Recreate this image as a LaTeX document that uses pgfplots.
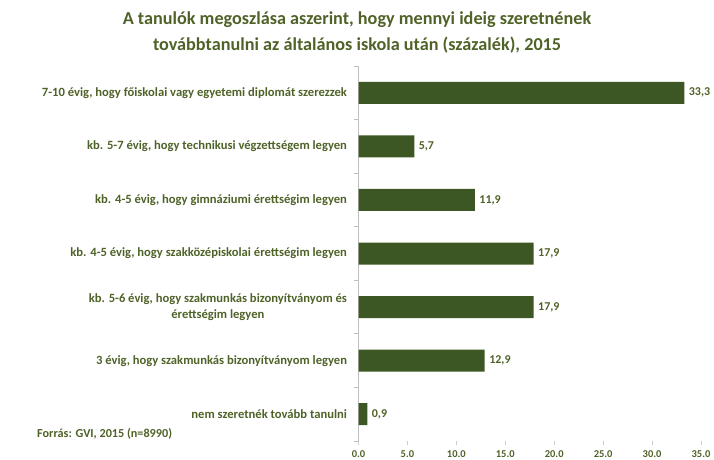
\documentclass[border=0pt]{standalone}
\usepackage{pgfplots}
\pgfplotsset{compat=1.18}
\usepackage{fontspec}
\setmainfont{Carlito}
\definecolor{bargreen}{RGB}{60,87,35}
\definecolor{txtgreen}{RGB}{79,98,40}
\begin{document}
\begin{tikzpicture}[x=1pt,y=1pt]
\useasboundingbox (0,0) rectangle (714,459);
\begin{axis}[
  at={(358.5pt,18pt)}, anchor=south west, scale only axis,
  width=342.5pt, height=375pt,
  xmin=0, xmax=35, ymin=-0.5, ymax=6.5, y dir=reverse,
  xbar, bar width=22pt,
  axis x line*=bottom, axis y line*=left,
  x axis line style={draw=none},
  y axis line style={draw=gray!50, line width=0.8pt},
  xtick={0,5,...,35},
  major x tick style={draw=gray!40, line width=0.6pt},
  major tick length=4pt,
  xticklabel style={font=\bfseries\fontsize{10.5}{12}\selectfont, text=txtgreen, yshift=-2pt},
  /pgf/number format/assume math mode=true,
  x tick label style={/pgf/number format/.cd, fixed, fixed zerofill, precision=1, assume math mode=true},
  ytick={0,...,6},
  major y tick style={draw=none},
  minor ytick={-0.5,0.5,...,6.5},
  minor y tick style={draw=gray!50, line width=0.8pt},
  minor tick length=5pt,
  tick align=outside,
  ytick pos=left,
  yticklabels={
    {7-10 évig, hogy főiskolai vagy egyetemi diplomát szerezzek},
    {kb. 5-7 évig, hogy technikusi végzettségem legyen},
    {kb. 4-5 évig, hogy gimnáziumi érettségim legyen},
    {kb. 4-5 évig, hogy szakközépiskolai érettségim legyen},
    {kb. 5-6 évig, hogy szakmunkás bizonyítványom és\\érettségim legyen},
    {3 évig, hogy szakmunkás bizonyítványom legyen},
    {nem szeretnék tovább tanulni}},
  yticklabel style={font=\bfseries\fontsize{12.6}{16}\selectfont, text=txtgreen, align=center, xshift=-4pt},
  point meta=x,
  nodes near coords,
  nodes near coords style={font=\bfseries\fontsize{12}{14}\selectfont, text=txtgreen, xshift=1pt,
    /pgf/number format/.cd, fixed, fixed zerofill, precision=1, use comma, assume math mode=true},
  clip=false,
]
\addplot[fill=bargreen, draw=none] coordinates {
  (33.3,0) (5.7,1) (11.9,2) (17.9,3) (17.9,4) (12.9,5) (0.9,6)
};
\end{axis}
\node[font=\bfseries\fontsize{18.2}{22}\selectfont, text=txtgreen] at (357,439) {A tanulók megoszlása aszerint, hogy mennyi ideig szeretnének};
\node[font=\bfseries\fontsize{18.2}{22}\selectfont, text=txtgreen] at (357,414) {továbbtanulni az általános iskola után (százalék), 2015};
\node[font=\bfseries\fontsize{12.2}{14}\selectfont, text=txtgreen, anchor=west, inner sep=0pt] at (37,25) {Forrás: GVI, 2015 (n=8990)};
\end{tikzpicture}
\end{document}
